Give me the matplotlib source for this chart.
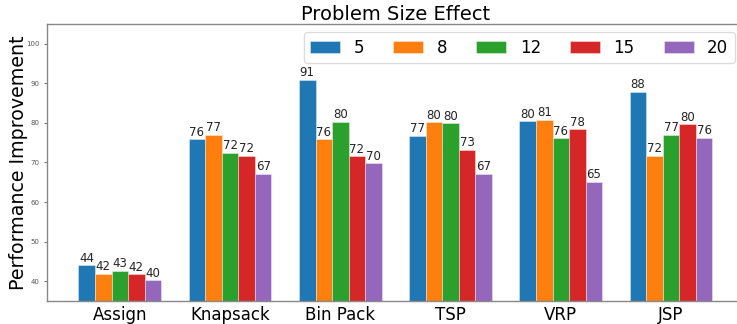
import matplotlib.pyplot as plt
import numpy as np

# Data
problems = ["Assign", "Knapsack", "Bin Pack", "TSP", "VRP", "JSP"]
sizes = ["5", "8", "12", "15", "20"]
size5 = [44.05, 75.9, 90.9, 76.7, 80.4, 87.8]
size8 = [41.9, 77.0, 75.9, 80.2, 80.8, 71.7]
size12 = [42.6, 72.4, 80.3, 79.9, 76.1, 77.0]
size15 = [41.7, 71.7, 71.6, 73.2, 78.4, 79.7]
size20 = [40.2, 67.2, 69.8, 67.2, 65.1, 76.3]

series = [size5, size8, size12, size15, size20]
colors = ["#1f77b4", "#ff7f0e", "#2ca02c", "#d62728", "#9467bd"]

fig = plt.figure(figsize=(7.37, 3.24), dpi=100)
# axes run a little past the right edge of the picture, as in the reference
ax = fig.add_axes([0.0638, 0.071, 0.947, 0.855])

x = np.arange(len(problems))
width = 0.15
for i, (vals, lab, col) in enumerate(zip(series, sizes, colors)):
    pos = x + (i - 2) * width
    bars = ax.bar(pos, vals, width, label=lab, color=col,
                  edgecolor=(1, 1, 1, 0.45), linewidth=0.6)
    for b, v in zip(bars, vals):
        ax.text(b.get_x() + b.get_width() / 2, v + 0.15, f"{round(v)}",
                ha="center", va="bottom", fontsize=8.5, color="#222222")

ax.set_ylim(35, 105)
ax.set_xlim(-0.66, 5.67)
ax.set_yticks(range(40, 101, 10))
ax.tick_params(axis="y", labelsize=5, colors="#555555", length=2, width=0.6)
ax.tick_params(axis="x", labelsize=12, length=0)
ax.set_xticks(x)
ax.set_xticklabels(problems)

for s in ["left", "bottom", "top"]:
    ax.spines[s].set_color("#888888")
    ax.spines[s].set_linewidth(1.0)
ax.spines["right"].set_visible(False)

ax.set_ylabel("Performance Improvement", fontsize=13.7)
ax.yaxis.set_label_coords(-0.027, 0.5)
ax.set_title("Problem Size Effect", fontsize=14, pad=2)

ax.legend(ncol=5, fontsize=12, loc="upper right", bbox_to_anchor=(0.9857, 0.971),
          borderaxespad=0, handlelength=1.8, handletextpad=0.8,
          columnspacing=1.75, borderpad=0.4, framealpha=1, edgecolor="#dddddd")

fig.savefig("out.png", dpi=100)
